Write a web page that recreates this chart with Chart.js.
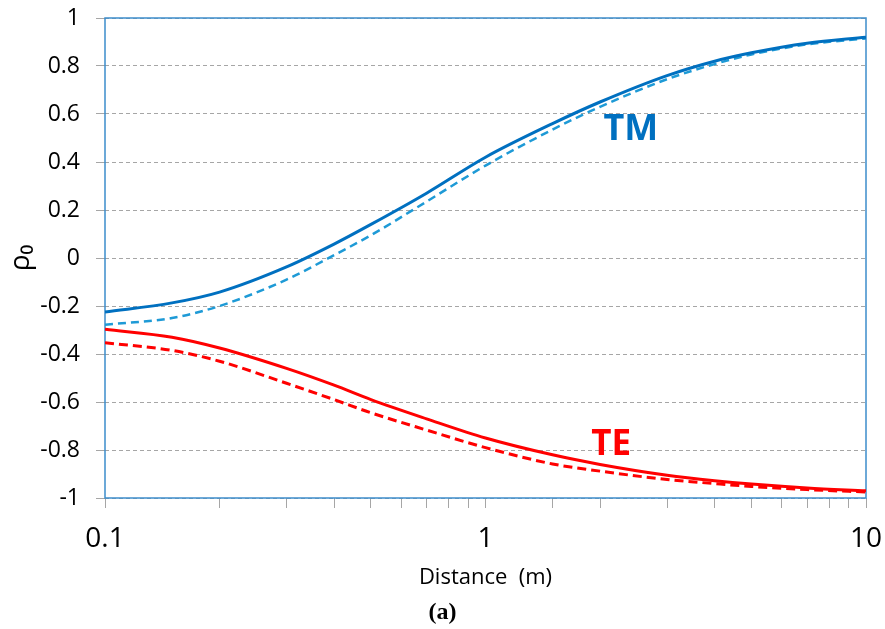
<!DOCTYPE html>
<html>
<head>
<meta charset="utf-8">
<script src="https://cdn.jsdelivr.net/npm/chart.js@4.4.1/dist/chart.umd.min.js"></script>
<style>
  html, body { margin: 0; padding: 0; background: #fff; }
  canvas { display: block; }
</style>
</head>
<body>
<canvas id="chart" width="885" height="629"></canvas>
<script>
// distance (m) sample points
const distances = [0.1, 0.15, 0.2, 0.3, 0.4, 0.5, 0.7, 1, 1.5, 2, 3, 4, 5, 7, 10];

// TM curves
const tmSolid  = [-0.225, -0.187, -0.142, -0.037, 0.058, 0.14, 0.27, 0.42, 0.56, 0.65, 0.76, 0.82, 0.855, 0.895, 0.92];
const tmDashed = [-0.278, -0.25, -0.2, -0.09, 0.012, 0.095, 0.235, 0.385, 0.535, 0.63, 0.745, 0.808, 0.848, 0.89, 0.915];

// TE curves
const teSolid  = [-0.297, -0.33, -0.375, -0.46, -0.53, -0.59, -0.67, -0.75, -0.82, -0.86, -0.905, -0.928, -0.942, -0.958, -0.97];
const teDashed = [-0.353, -0.385, -0.43, -0.522, -0.59, -0.645, -0.717, -0.79, -0.858, -0.888, -0.923, -0.94, -0.952, -0.965, -0.975];

const yTicks = [-1, -0.8, -0.6, -0.4, -0.2, 0, 0.2, 0.4, 0.6, 0.8, 1];
const xLabelled = [0.1, 1, 10];

const toPoints = ys => distances.map((x, i) => ({ x: x, y: ys[i] }));

const BLUE = '#0070c0';
const LIGHT_BLUE = '#1e9ad6';
const RED = '#ff0000';
const GRID = '#a6a6a6';
const FONT = "'Open Sans', 'Liberation Sans', sans-serif";

// frame around the plot area plus the curve names and the panel letter
const decorations = {
  id: 'decorations',
  beforeDatasetsDraw(chart) {
    const { ctx, chartArea: a } = chart;
    ctx.save();
    ctx.strokeStyle = '#3c8dcb';
    ctx.lineWidth = 1.5;
    ctx.strokeRect(a.left, a.top, a.right - a.left, a.bottom - a.top);
    ctx.restore();
  },
  afterDraw(chart) {
    const { ctx, scales: { x, y } } = chart;
    ctx.save();
    ctx.textAlign = 'center';
    ctx.textBaseline = 'middle';
    ctx.font = "bold 36px " + FONT;
    ctx.fillStyle = BLUE;
    ctx.fillText('TM', x.getPixelForValue(2.41), y.getPixelForValue(0.533));
    ctx.font = "bold 35px " + FONT;
    ctx.fillStyle = RED;
    ctx.fillText('TE', x.getPixelForValue(2.14), y.getPixelForValue(-0.781));
    ctx.font = "bold 24px 'Liberation Serif', 'DejaVu Serif', serif";
    ctx.fillStyle = '#000';
    ctx.fillText('(a)', chart.width / 2, 613);
    ctx.restore();
  }
};

new Chart(document.getElementById('chart'), {
  type: 'line',
  data: {
    datasets: [
      { label: 'TM', data: toPoints(tmSolid), borderColor: BLUE, borderWidth: 3 },
      { label: 'TM dashed', data: toPoints(tmDashed), borderColor: LIGHT_BLUE, borderWidth: 2.5, borderDash: [8, 5] },
      { label: 'TE', data: toPoints(teSolid), borderColor: RED, borderWidth: 3 },
      { label: 'TE dashed', data: toPoints(teDashed), borderColor: RED, borderWidth: 3, borderDash: [9, 5] }
    ]
  },
  options: {
    responsive: false,
    animation: false,
    layout: { padding: { left: 0, right: 19, top: 18, bottom: 0 } },
    elements: {
      point: { radius: 0 },
      line: { cubicInterpolationMode: 'monotone', fill: false }
    },
    plugins: {
      legend: { display: false },
      tooltip: { enabled: false }
    },
    scales: {
      x: {
        type: 'logarithmic',
        min: 0.1,
        max: 10,
        afterFit: s => {
          s.height = 131;
          s.paddingLeft = 0;
          s.paddingRight = 0;
        },
        border: { display: false },
        grid: { drawOnChartArea: false, drawTicks: true, tickLength: 10, tickColor: GRID, lineWidth: 1 },
        ticks: {
          autoSkip: false,
          maxRotation: 0,
          padding: 14,
          color: '#000',
          font: { family: FONT, size: 28 },
          callback: v => xLabelled.some(t => Math.abs(t - v) < 1e-9) ? String(v) : ''
        },
        title: {
          display: true,
          text: 'Distance  (m)',
          color: '#000',
          font: { family: FONT, size: 22 },
          padding: { top: 0, bottom: 38 }
        }
      },
      y: {
        min: -1,
        max: 1,
        afterFit: s => {
          s.width = 105;
          s.paddingTop = 0;
          s.paddingBottom = 0;
        },
        afterBuildTicks: s => { s.ticks = yTicks.map(v => ({ value: v })); },
        border: { display: false, dash: [4, 3] },
        grid: { color: GRID, lineWidth: 1, tickLength: 9, tickColor: GRID },
        ticks: {
          padding: 16,
          color: '#000',
          font: { family: FONT, size: 23 },
          callback: v => String(Number(v.toFixed(1)))
        },
        title: {
          display: true,
          text: 'ρ₀',
          color: '#000',
          font: { family: FONT, size: 28 },
          padding: { top: 4, bottom: 0 }
        }
      }
    }
  },
  plugins: [decorations]
});
</script>
</body>
</html>
